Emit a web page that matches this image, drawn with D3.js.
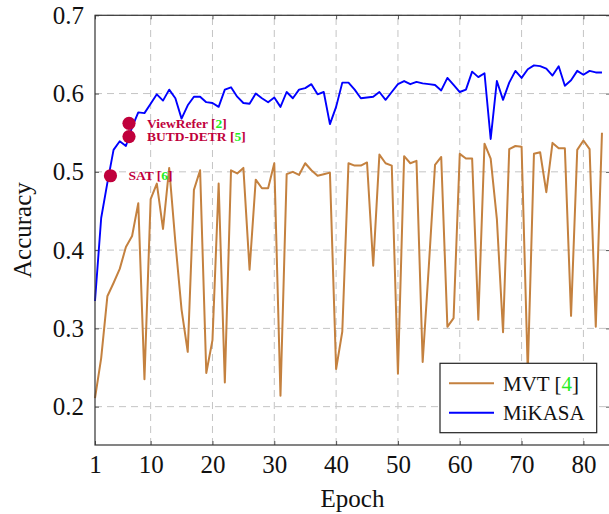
<!DOCTYPE html>
<html>
<head>
<meta charset="utf-8">
<script src="https://cdn.jsdelivr.net/npm/d3@7"></script>
<style>
  body { margin: 0; background: #fff; }
  text { font-family: "Liberation Serif", "Times New Roman", serif; }
</style>
</head>
<body>
<svg id="my-svg"></svg>
<script>
// accuracy per epoch, epoch = index + 1
const mvt = [0.211, 0.262, 0.341, 0.358, 0.376, 0.404, 0.418, 0.460, 0.235, 0.465,
  0.485, 0.427, 0.505, 0.410, 0.324, 0.270, 0.477, 0.502, 0.243, 0.285,
  0.485, 0.231, 0.502, 0.498, 0.505, 0.375, 0.490, 0.479, 0.479, 0.511,
  0.214, 0.497, 0.500, 0.496, 0.511, 0.502, 0.495, 0.497, 0.499, 0.248,
  0.296, 0.511, 0.508, 0.508, 0.512, 0.380, 0.522, 0.511, 0.508, 0.242,
  0.520, 0.511, 0.514, 0.257, 0.380, 0.509, 0.519, 0.302, 0.313, 0.523,
  0.517, 0.517, 0.311, 0.536, 0.517, 0.440, 0.295, 0.529, 0.533, 0.532,
  0.245, 0.523, 0.525, 0.474, 0.537, 0.530, 0.530, 0.316, 0.528, 0.540,
  0.529, 0.302, 0.550];

const mikasa = [0.335, 0.441, 0.486, 0.528, 0.539, 0.533, 0.557, 0.576, 0.575, 0.587,
  0.599, 0.591, 0.605, 0.594, 0.568, 0.585, 0.596, 0.596, 0.589, 0.588,
  0.583, 0.605, 0.608, 0.596, 0.588, 0.587, 0.600, 0.594, 0.589, 0.595,
  0.583, 0.602, 0.594, 0.605, 0.607, 0.612, 0.599, 0.602, 0.561, 0.583,
  0.614, 0.614, 0.605, 0.594, 0.595, 0.596, 0.602, 0.592, 0.602, 0.612,
  0.616, 0.612, 0.615, 0.613, 0.612, 0.611, 0.604, 0.620, 0.611, 0.602,
  0.605, 0.628, 0.621, 0.626, 0.542, 0.616, 0.592, 0.614, 0.629, 0.620,
  0.631, 0.636, 0.635, 0.632, 0.623, 0.635, 0.610, 0.617, 0.629, 0.624,
  0.629, 0.627, 0.627];

// single reported results of other methods
const baselines = [
  { name: "ViewRefer", ref: "2", epoch: 6.5, acc: 0.562 },
  { name: "BUTD-DETR", ref: "5", epoch: 6.5, acc: 0.545 },
  { name: "SAT", ref: "6", epoch: 3.5, acc: 0.495 }
];

const xTicks = [1, 10, 20, 30, 40, 50, 60, 70, 80];
const yTicks = [0.2, 0.3, 0.4, 0.5, 0.6, 0.7];

const width = 609, height = 514;
const mLeft = 95, mRight = 610, mTop = 15.3, mBottom = 445;

const svg = d3.select("#my-svg")
    .attr("width", width)
    .attr("height", height);

const x = d3.scaleLinear()
    .domain([1, 84.3])
    .range([mLeft, mRight]);

const y = d3.scaleLinear()
    .domain([0.151, 0.7])
    .range([mBottom, mTop]);

const brown = "#c4813f";
const crimson = "#c0003c";
const green = "#22ee22";

// grid
const grid = svg.append("g")
    .attr("stroke", "#c4c4c4")
    .attr("stroke-width", 1)
    .attr("stroke-dasharray", "7,5");

grid.selectAll("line.vx")
    .data(xTicks.slice(1))
    .join("line")
      .attr("x1", d => x(d)).attr("x2", d => x(d))
      .attr("y1", mBottom).attr("y2", mTop);

grid.selectAll("line.hy")
    .data(yTicks)
    .join("line")
      .attr("x1", mLeft).attr("x2", mRight)
      .attr("y1", d => y(d)).attr("y2", d => y(d));

// axes, ticks point inward
const xAxis = svg.append("g")
    .attr("transform", `translate(0,${mBottom})`)
    .call(d3.axisBottom(x).tickValues(xTicks).tickFormat(d3.format("d"))
      .tickSize(-4).tickPadding(10));

const xTop = svg.append("g")
    .attr("transform", `translate(0,${mTop})`)
    .call(d3.axisTop(x).tickValues(xTicks).tickFormat("").tickSize(-4));

const yAxis = svg.append("g")
    .attr("transform", `translate(${mLeft},0)`)
    .call(d3.axisLeft(y).tickValues(yTicks).tickFormat(d3.format(".1f"))
      .tickSize(-4).tickPadding(11));

const yRight = svg.append("g")
    .attr("transform", `translate(${mRight},0)`)
    .call(d3.axisRight(y).tickValues(yTicks).tickFormat("").tickSize(-4));

[xAxis, xTop, yAxis, yRight].forEach(a => {
  a.select(".domain").remove();
  a.selectAll(".tick line").attr("stroke", "#555");
  a.selectAll(".tick text")
    .attr("fill", "#111")
    .style("font-size", "25px")
    .style("font-family", "'Liberation Serif', serif");
});

// lines
const line = d3.line()
    .x((d, i) => x(i + 1))
    .y(d => y(d));

svg.append("path")
    .datum(mvt)
    .attr("fill", "none")
    .attr("stroke", brown)
    .attr("stroke-width", 2)
    .attr("stroke-linejoin", "round")
    .attr("d", line);

svg.append("path")
    .datum(mikasa)
    .attr("fill", "none")
    .attr("stroke", "#0000ff")
    .attr("stroke-width", 1.9)
    .attr("stroke-linejoin", "round")
    .attr("d", line);

// frame
svg.append("rect")
    .attr("x", mLeft).attr("y", mTop)
    .attr("width", mRight - mLeft).attr("height", mBottom - mTop)
    .attr("fill", "none")
    .attr("stroke", "#333")
    .attr("stroke-width", 1.2);

// baseline dots with labels
svg.selectAll("circle.base")
    .data(baselines)
    .join("circle")
      .attr("cx", d => x(d.epoch))
      .attr("cy", d => y(d.acc))
      .attr("r", 6.6)
      .attr("fill", crimson);

const lbl = svg.selectAll("text.base")
    .data(baselines)
    .join("text")
      .attr("x", d => x(d.epoch) + 18)
      .attr("y", d => y(d.acc))
      .attr("dy", "0.35em")
      .attr("fill", crimson)
      .style("font-size", "13.5px")
      .style("font-weight", "bold");
lbl.append("tspan").text(d => d.name + " [");
lbl.append("tspan").attr("fill", green).text(d => d.ref);
lbl.append("tspan").text("]");

// axis titles
svg.append("text")
    .attr("x", (mLeft + mRight) / 2)
    .attr("y", 507)
    .attr("text-anchor", "middle")
    .attr("fill", "#111")
    .style("font-size", "25px")
    .text("Epoch");

svg.append("text")
    .attr("transform", `translate(31,${(mTop + mBottom) / 2}) rotate(-90)`)
    .attr("text-anchor", "middle")
    .attr("fill", "#111")
    .style("font-size", "25px")
    .text("Accuracy");

// legend
const legend = svg.append("g").attr("transform", "translate(440,363.3)");
legend.append("rect")
    .attr("width", 156.7).attr("height", 69.4)
    .attr("fill", "white")
    .attr("stroke", "#222")
    .attr("stroke-width", 1.2);

const entries = [
  { label: "MVT [", ref: "4", color: brown },
  { label: "MiKASA", ref: null, color: "#0000ff" }
];

entries.forEach((e, i) => {
  const cy = 20 + i * 29.4;
  legend.append("line")
      .attr("x1", 9).attr("x2", 54)
      .attr("y1", cy).attr("y2", cy)
      .attr("stroke", e.color)
      .attr("stroke-width", 2);
  const t = legend.append("text")
      .attr("x", 63).attr("y", cy)
      .attr("dy", "0.35em")
      .attr("fill", "#111")
      .style("font-size", "21px");
  t.append("tspan").text(e.label);
  if (e.ref) {
    t.append("tspan").attr("fill", green).text(e.ref);
    t.append("tspan").text("]");
  }
});
</script>
</body>
</html>
